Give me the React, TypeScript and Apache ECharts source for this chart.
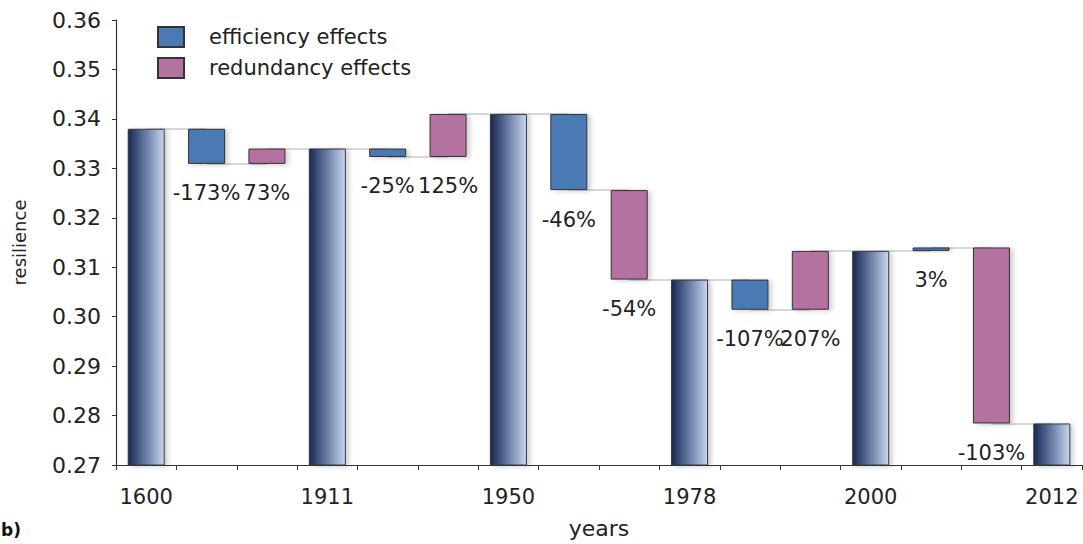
import React, { useEffect, useRef } from "react";
import * as echarts from "echarts";

// ---- data ----
const years = ["1600", "1911", "1950", "1978", "2000", "2012"];
const resilience = [0.338, 0.334, 0.341, 0.3075, 0.3133, 0.2784];
const efficiencyEffect = [-0.0071, -0.0017, -0.0154, -0.0061, 0.0007];
const redundancyEffect = [0.0031, 0.0087, -0.0181, 0.0119, -0.0356];
const efficiencyLabels = ["-173%", "-25%", "-46%", "-107%", "3%"];
const redundancyLabels = ["73%", "125%", "-54%", "207%", "-103%"];
const yTicks = { min: 0.27, max: 0.36, interval: 0.01 };

const FONT = "'DejaVu Sans', 'Liberation Sans', Arial, sans-serif";

export default function App() {
  const ref = useRef<HTMLDivElement>(null);

  useEffect(() => {
    if (!ref.current) return;
    const chart = echarts.init(ref.current, undefined, { renderer: "svg" });

    const categories: string[] = [];
    const base: (number | string)[] = [];
    const yearVals: (number | string)[] = [];
    const effVals: (number | string)[] = [];
    const redVals: (number | string)[] = [];
    const labelText: string[] = [];
    const levelAfter: number[] = [];

    years.forEach((y, i) => {
      categories.push(y);
      base.push(0);
      yearVals.push(resilience[i]);
      effVals.push("-");
      redVals.push("-");
      labelText.push("");
      levelAfter.push(resilience[i]);
      if (i < years.length - 1) {
        const s0 = resilience[i];
        const s1 = s0 + efficiencyEffect[i];
        const s2 = s1 + redundancyEffect[i];
        categories.push("eff" + y);
        base.push(Math.min(s0, s1));
        yearVals.push("-");
        effVals.push(Math.abs(efficiencyEffect[i]));
        redVals.push("-");
        labelText.push(efficiencyLabels[i]);
        levelAfter.push(s1);
        categories.push("red" + y);
        base.push(Math.min(s1, s2));
        yearVals.push("-");
        effVals.push("-");
        redVals.push(Math.abs(redundancyEffect[i]));
        labelText.push(redundancyLabels[i]);
        levelAfter.push(s2);
      }
    });

    const connectors = levelAfter.slice(0, -1).map((lv, i) => [
      { coord: [categories[i], lv] },
      { coord: [categories[i + 1], lv] },
    ]);

    const shadow = {
      shadowColor: "rgba(0,0,0,0.2)",
      shadowBlur: 5,
      shadowOffsetX: 3,
      shadowOffsetY: 1,
    };

    const effLabel = {
      show: true,
      position: "bottom",
      distance: 19,
      fontSize: 21,
      fontFamily: FONT,
      color: "#222",
      formatter: (p: any) => labelText[p.dataIndex],
    };

    chart.setOption({
      animation: false,
      backgroundColor: "#ffffff",
      textStyle: { fontFamily: FONT },
      grid: { left: 116, right: 1, top: 20, bottom: 77, containLabel: false },
      legend: {
        data: ["efficiency effects", "redundancy effects"],
        orient: "vertical",
        left: 152,
        top: 21,
        itemWidth: 26,
        itemHeight: 20,
        itemGap: 9,
        icon: "rect",
        textStyle: {
          fontSize: 21,
          lineHeight: 20,
          color: "#222",
          fontFamily: FONT,
          padding: [0, 0, 0, 20],
        },
      },
      xAxis: {
        type: "category",
        data: categories,
        name: "years",
        nameLocation: "middle",
        nameGap: 52,
        nameTextStyle: { fontSize: 22, color: "#222", fontFamily: FONT },
        axisLine: { lineStyle: { color: "#333", width: 1.2 } },
        axisTick: { show: true, interval: 0, length: 5, lineStyle: { color: "#333" } },
        axisLabel: {
          interval: (_i: number, v: string) => years.includes(v),
          fontSize: 21,
          color: "#222",
          margin: 21,
          fontFamily: FONT,
        },
        splitLine: { show: false },
      },
      yAxis: {
        type: "value",
        min: yTicks.min,
        max: yTicks.max,
        interval: yTicks.interval,
        name: "resilience",
        nameLocation: "middle",
        nameGap: 88,
        nameTextStyle: { fontSize: 18, color: "#222", fontFamily: FONT },
        axisLine: { show: true, lineStyle: { color: "#333", width: 1.2 } },
        axisTick: { show: true, length: 4, lineStyle: { color: "#333" } },
        axisLabel: {
          fontSize: 22,
          color: "#222",
          margin: 15,
          fontFamily: FONT,
          formatter: (v: number) => v.toFixed(2),
        },
        splitLine: { show: false },
      },
      series: [
        {
          name: "base",
          type: "bar",
          stack: "w",
          barWidth: 37,
          data: base,
          itemStyle: { color: "transparent", borderWidth: 0 },
          silent: true,
          z: 1,
          markLine: {
            silent: true,
            symbol: "none",
            z: 1,
            label: { show: false },
            lineStyle: { color: "#d8d8d8", width: 2, type: "solid" },
            data: connectors,
          },
        },
        {
          name: "resilience",
          type: "bar",
          stack: "w",
          barWidth: 37,
          data: yearVals,
          z: 3,
          itemStyle: {
            color: new echarts.graphic.LinearGradient(0, 0, 1, 0, [
              { offset: 0, color: "#172853" },
              { offset: 0.5, color: "#6a7ea6" },
              { offset: 1, color: "#c8d6ee" },
            ]),
            borderColor: "#3a3a3a",
            borderWidth: 1,
            ...shadow,
          },
        },
        {
          name: "efficiency effects",
          type: "bar",
          stack: "w",
          barWidth: 37,
          data: effVals,
          z: 3,
          itemStyle: { color: "#4a7ab4", borderColor: "#333", borderWidth: 1, ...shadow },
          label: effLabel,
        },
        {
          name: "redundancy effects",
          type: "bar",
          stack: "w",
          barWidth: 37,
          data: redVals,
          z: 3,
          itemStyle: { color: "#b3729f", borderColor: "#333", borderWidth: 1, ...shadow },
          label: effLabel,
        },
      ],
      graphic: [
        {
          type: "text",
          left: 1,
          top: 521,
          style: { text: "b)", fontSize: 17, fontWeight: "bold", fill: "#111", fontFamily: FONT },
        },
      ],
    });

    return () => chart.dispose();
  }, []);

  return (
    <div
      ref={ref}
      style={{ position: "fixed", left: 0, top: 0, width: 1083, height: 544, background: "#fff" }}
    />
  );
}
